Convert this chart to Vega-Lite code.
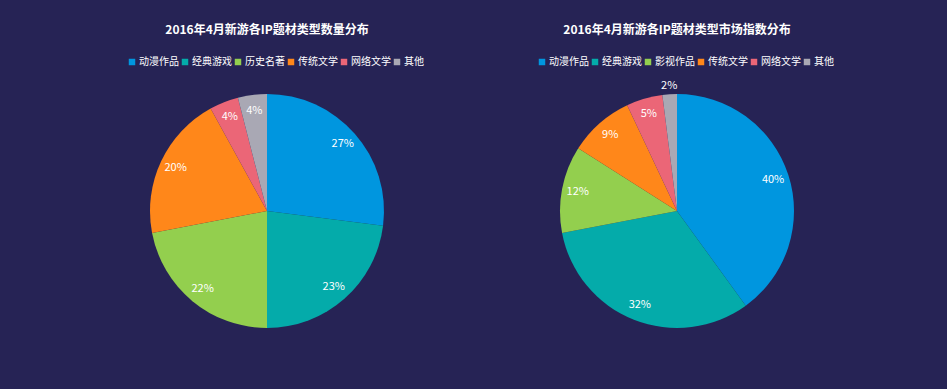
{
  "$schema": "https://vega.github.io/schema/vega-lite/v6.json",
  "background": "#262355",
  "padding": {"left": 62, "top": 24, "right": 65, "bottom": 48},
  "spacing": 0,
  "config": {
    "view": {"stroke": null},
    "font": "Noto Sans CJK SC",
    "title": {"color": "#ffffff", "fontSize": 12, "fontWeight": "bold", "anchor": "middle", "offset": 20},
    "legend": {
      "orient": "none", "direction": "horizontal", "legendX": 65, "legendY": -24,
      "symbolType": "square", "symbolSize": 42, "symbolStrokeWidth": 0,
      "labelColor": "#ffffff", "labelFontSize": 10, "labelFont": "Noto Sans CJK SC",
      "columnPadding": 1, "symbolOffset": 0, "labelOffset": 2, "title": null
    }
  },
  "resolve": {"scale": {"color": "independent", "theta": "independent"}, "legend": {"color": "independent"}},
  "hconcat": [
    {
      "width": 410, "height": 260,
      "title": "2016年4月新游各IP题材类型数量分布",
      "data": {"values": [
        {"type": "动漫作品", "idx": 1, "share": 0.27},
        {"type": "经典游戏", "idx": 2, "share": 0.23},
        {"type": "历史名著", "idx": 3, "share": 0.22},
        {"type": "传统文学", "idx": 4, "share": 0.20},
        {"type": "网络文学", "idx": 5, "share": 0.04},
        {"type": "其他", "idx": 6, "share": 0.04}
      ]},
      "encoding": {
        "theta": {"field": "share", "type": "quantitative", "stack": true},
        "order": {"field": "idx", "type": "quantitative"},
        "color": {"field": "type", "type": "nominal", "title": null,
          "scale": {"domain": ["动漫作品", "经典游戏", "历史名著", "传统文学", "网络文学", "其他"],
                    "range": ["#0096DF", "#04ABAA", "#93CF4E", "#FF871A", "#EB6677", "#A9A8B4"]}}
      },
      "layer": [
        {"mark": {"type": "arc", "outerRadius": 117}},
        {"mark": {"type": "text", "fill": "#ffffff", "fontSize": 11},
         "encoding": {
           "text": {"field": "share", "type": "quantitative", "format": ".0%"},
           "radius": {"value": {"expr": "datum.share < 0.03 ? 125 : 101"}},
           "color": {"value": "#ffffff"}
         }}
      ]
    },
    {
      "width": 410, "height": 260,
      "title": "2016年4月新游各IP题材类型市场指数分布",
      "data": {"values": [
        {"type": "动漫作品", "idx": 1, "share": 0.40},
        {"type": "经典游戏", "idx": 2, "share": 0.32},
        {"type": "影视作品", "idx": 3, "share": 0.12},
        {"type": "传统文学", "idx": 4, "share": 0.09},
        {"type": "网络文学", "idx": 5, "share": 0.05},
        {"type": "其他", "idx": 6, "share": 0.02}
      ]},
      "encoding": {
        "theta": {"field": "share", "type": "quantitative", "stack": true},
        "order": {"field": "idx", "type": "quantitative"},
        "color": {"field": "type", "type": "nominal", "title": null,
          "scale": {"domain": ["动漫作品", "经典游戏", "影视作品", "传统文学", "网络文学", "其他"],
                    "range": ["#0096DF", "#04ABAA", "#93CF4E", "#FF871A", "#EB6677", "#A9A8B4"]}}
      },
      "layer": [
        {"mark": {"type": "arc", "outerRadius": 117}},
        {"mark": {"type": "text", "fill": "#ffffff", "fontSize": 11},
         "encoding": {
           "text": {"field": "share", "type": "quantitative", "format": ".0%"},
           "radius": {"value": {"expr": "datum.share < 0.03 ? 125 : 101"}},
           "color": {"value": "#ffffff"}
         }}
      ]
    }
  ]
}
